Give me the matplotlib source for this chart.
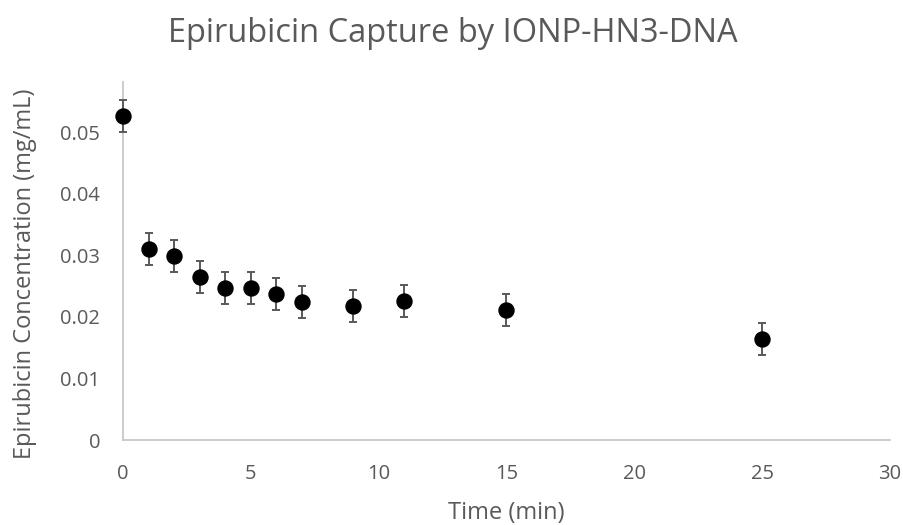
import matplotlib
matplotlib.use("Agg")
import matplotlib.pyplot as plt

time_min = [0, 1, 2, 3, 4, 5, 6, 7, 9, 11, 15, 25]
concentration = [0.0527, 0.0310, 0.0299, 0.02645, 0.02466, 0.02466, 0.0237, 0.0224, 0.0218, 0.0226, 0.0211, 0.0164]
error = [0.0026, 0.0026, 0.0026, 0.0026, 0.0026, 0.0026, 0.0026, 0.0026, 0.0026, 0.0026, 0.0026, 0.0026]
x_ticks = [0, 5, 10, 15, 20, 25, 30]
y_ticks = [0, 0.01, 0.02, 0.03, 0.04, 0.05]
y_tick_labels = ["0", "0.01", "0.02", "0.03", "0.04", "0.05"]

plt.rcParams['font.family'] = ['Open Sans', 'DejaVu Sans']
txt = '#595959'
W, H = 904, 525

fig = plt.figure(figsize=(W / 100, H / 100), dpi=100)
ax = fig.add_axes([123 / W, 1 - 440 / H, (890 - 123) / W, (440 - 82) / H])

ax.errorbar(time_min, concentration, yerr=error, fmt='o', color='black',
            ecolor='#595959', elinewidth=1.4, capsize=3.2, capthick=1.4,
            markersize=10.8, zorder=3, clip_on=False)

ax.set_xlim(0, 30)
ax.set_ylim(0, 0.0582)
ax.set_xticks(x_ticks)
ax.set_xticklabels([str(t) for t in x_ticks])
ax.set_yticks(y_ticks)
ax.set_yticklabels(y_tick_labels)
ax.tick_params(length=0, colors=txt, labelsize=14.5)
ax.tick_params(axis='x', pad=17.5)
ax.tick_params(axis='y', pad=16.5)
for s in ['top', 'right']:
    ax.spines[s].set_visible(False)
for s in ['left', 'bottom']:
    ax.spines[s].set_color('#c8c8c8')
    ax.spines[s].set_linewidth(1.3)

fig.text(506.5 / W, 1 - 519 / H, 'Time (min)', ha='center', va='baseline',
         color=txt, fontsize=17)
fig.text(31 / W, 1 - 274 / H, 'Epirubicin Concentration (mg/mL)', ha='center',
         va='baseline', rotation=90, rotation_mode='anchor', color=txt, fontsize=17)
fig.text(452.5 / W, 1 - 41.7 / H, 'Epirubicin Capture by IONP-HN3-DNA', ha='center',
         va='baseline', color=txt, fontsize=23.5)

fig.savefig('out.png', dpi=100)
